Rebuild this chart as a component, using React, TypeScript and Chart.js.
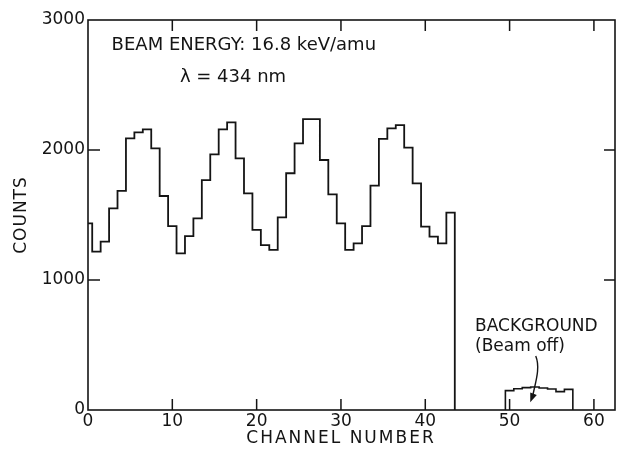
import { useEffect, useRef } from "react";
import { Chart, registerables } from "chart.js";

Chart.register(...registerables);

// Counts per channel, beam on (channels 0..43)
const mainStartChannel = 0;
const mainCounts = [
  1436, 1218, 1295, 1551, 1685, 2090, 2136, 2159, 2013, 1646,
  1415, 1205, 1338, 1474, 1769, 1967, 2159, 2213, 1936, 1667,
  1385, 1269, 1231, 1482, 1821, 2051, 2238, 2238, 1923, 1659,
  1436, 1231, 1282, 1415, 1726, 2085, 2167, 2192, 2018, 1744,
  1410, 1333, 1282, 1518,
];
// Background counts, beam off (channels 50..57)
const bgStartChannel = 50;
const bgCounts = [149, 164, 172, 177, 169, 162, 141, 159];

const xTicks = [0, 10, 20, 30, 40, 50, 60];
const yTicks = [0, 1000, 2000, 3000];
const xMin = 0;
const xMax = 62.5;
const yMin = 0;
const yMax = 3000;

const titleLine1 = "BEAM ENERGY: 16.8 keV/amu";
const titleLine2 = "\u03bb = 434 nm";
const bgLabel1 = "BACKGROUND";
const bgLabel2 = "(Beam off)";
const xTitle = "CHANNEL NUMBER";
const yTitle = "COUNTS";

const FONT = '"DejaVu Sans", sans-serif';
const INK = "#141414";

function stepPoints(start: number, counts: number[], fromZero: boolean) {
  const pts: { x: number; y: number }[] = [];
  if (fromZero) pts.push({ x: start - 0.5, y: 0 });
  counts.forEach((v, i) => pts.push({ x: start + i - 0.5, y: v }));
  pts.push({ x: start + counts.length - 0.5, y: 0 });
  return pts;
}

const framePlugin = {
  id: "framePlugin",
  afterDraw(chart: any) {
    const { ctx, chartArea, scales } = chart;
    const { left, right, top, bottom } = chartArea;
    const xs = scales.x;
    const ys = scales.y;
    ctx.save();
    ctx.strokeStyle = INK;
    ctx.fillStyle = INK;
    ctx.lineWidth = 1.6;
    ctx.strokeRect(left, top, right - left, bottom - top);
    // inward tick marks on all four sides
    ctx.lineWidth = 1.5;
    ctx.beginPath();
    xTicks.forEach((v) => {
      if (v <= xMin || v >= xMax) return;
      const px = xs.getPixelForValue(v);
      ctx.moveTo(px, bottom);
      ctx.lineTo(px, bottom - 11);
      ctx.moveTo(px, top);
      ctx.lineTo(px, top + 11);
    });
    yTicks.forEach((v) => {
      if (v <= yMin || v >= yMax) return;
      const py = ys.getPixelForValue(v);
      ctx.moveTo(left, py);
      ctx.lineTo(left + 12, py);
      ctx.moveTo(right, py);
      ctx.lineTo(right - 11, py);
    });
    ctx.stroke();

    // annotations
    ctx.textBaseline = "middle";
    ctx.textAlign = "left";
    ctx.font = `18px ${FONT}`;
    ctx.fillText(titleLine1, xs.getPixelForValue(2.8), ys.getPixelForValue(2805));
    ctx.fillText(titleLine2, xs.getPixelForValue(10.9), ys.getPixelForValue(2561));
    ctx.font = `17px ${FONT}`;
    ctx.fillText(bgLabel1, xs.getPixelForValue(45.9), ys.getPixelForValue(641));
    ctx.fillText(bgLabel2, xs.getPixelForValue(45.9), ys.getPixelForValue(488));

    // curved arrow
    const sx = xs.getPixelForValue(53.1), sy = ys.getPixelForValue(415);
    const c1x = xs.getPixelForValue(53.7), c1y = ys.getPixelForValue(320);
    const c2x = xs.getPixelForValue(53.0), c2y = ys.getPixelForValue(200);
    const ex = xs.getPixelForValue(52.75), ey = ys.getPixelForValue(110);
    ctx.lineWidth = 1.4;
    ctx.beginPath();
    ctx.moveTo(sx, sy);
    ctx.bezierCurveTo(c1x, c1y, c2x, c2y, ex, ey);
    ctx.stroke();
    const tx = xs.getPixelForValue(52.45), ty = ys.getPixelForValue(60);
    const ang = Math.atan2(ty - ey, tx - ex);
    const hl = 9, hw = 3.5;
    const bx = tx - hl * Math.cos(ang), by = ty - hl * Math.sin(ang);
    ctx.beginPath();
    ctx.moveTo(tx, ty);
    ctx.lineTo(bx + hw * Math.sin(ang), by - hw * Math.cos(ang));
    ctx.lineTo(bx - hw * Math.sin(ang), by + hw * Math.cos(ang));
    ctx.closePath();
    ctx.fill();

    // axis titles
    ctx.font = `17px ${FONT}`;
    ctx.textAlign = "center";
    (ctx as any).letterSpacing = "2px";
    ctx.fillText(xTitle, 341, 439);
    (ctx as any).letterSpacing = "1px";
    ctx.translate(22, 215);
    ctx.rotate(-Math.PI / 2);
    ctx.fillText(yTitle, 0, 0);
    (ctx as any).letterSpacing = "0px";
    ctx.restore();
  },
};

export default function App() {
  const ref = useRef<HTMLCanvasElement | null>(null);
  useEffect(() => {
    if (!ref.current) return;
    const chart = new Chart(ref.current, {
      type: "line",
      data: {
        datasets: [
          {
            label: "Beam on",
            data: stepPoints(mainStartChannel, mainCounts, false),
            stepped: "before",
            borderColor: INK,
            borderWidth: 1.8,
            pointRadius: 0,
            fill: false,
          },
          {
            label: "Background",
            data: stepPoints(bgStartChannel, bgCounts, true),
            stepped: "before",
            borderColor: INK,
            borderWidth: 1.6,
            pointRadius: 0,
            fill: false,
          },
        ],
      },
      options: {
        animation: false,
        responsive: false,
        maintainAspectRatio: false,
        layout: { padding: { top: 20, right: 2, left: 0, bottom: 0 } },
        plugins: {
          legend: { display: false },
          tooltip: { enabled: false },
        },
        scales: {
          x: {
            type: "linear",
            min: xMin,
            max: xMax,
            afterBuildTicks: (s: any) => {
              s.ticks = xTicks.map((v) => ({ value: v }));
            },
            afterFit: (s: any) => {
              s.height = 43;
            },
            grid: { display: false, drawTicks: false },
            border: { display: false },
            ticks: {
              color: INK,
              font: { family: FONT, size: 17 },
              padding: 1,
              maxRotation: 0,
              autoSkip: false,
              callback: (v: any) => String(v),
            },
          },
          y: {
            type: "linear",
            min: yMin,
            max: yMax,
            afterBuildTicks: (s: any) => {
              s.ticks = yTicks.map((v) => ({ value: v }));
            },
            afterFit: (s: any) => {
              s.width = 88;
            },
            grid: { display: false, drawTicks: false },
            border: { display: false },
            ticks: {
              color: INK,
              font: { family: FONT, size: 17 },
              padding: 3,
              autoSkip: false,
              callback: (v: any) => String(v),
            },
          },
        },
      },
      plugins: [framePlugin],
    } as any);
    return () => chart.destroy();
  }, []);
  return (
    <div style={{ position: "absolute", left: 0, top: 0, width: 617, height: 453, background: "#fff" }}>
      <canvas ref={ref} width={617} height={453} style={{ width: 617, height: 453, display: "block" }} />
    </div>
  );
}
